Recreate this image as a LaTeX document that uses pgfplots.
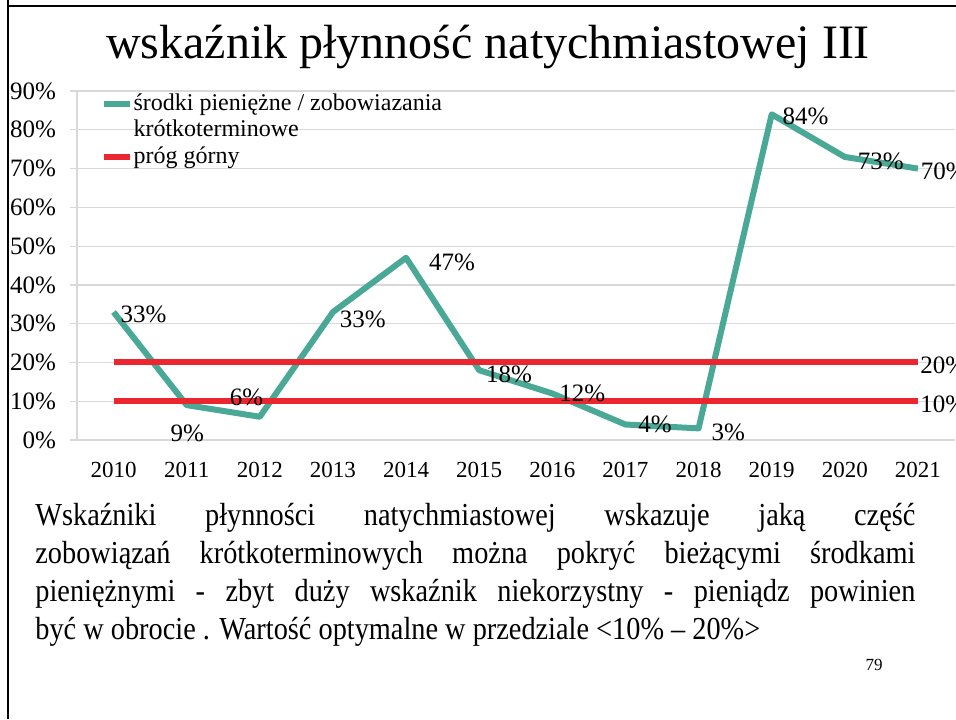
\documentclass[border=0pt]{standalone}
\usepackage{pgfplots}
\pgfplotsset{compat=1.18}
\usepackage{fontspec}
\setmainfont{Liberation Serif}

\definecolor{tealline}{RGB}{74,168,150}
\definecolor{redline}{RGB}{236,38,46}
\definecolor{gridgray}{RGB}{217,217,217}

\begin{document}
\begin{tikzpicture}
% slide frame, 1 px of the scan = 0.5pt
\path[use as bounding box] (0,0) rectangle (478pt,-359.5pt);
\draw[line width=1.1pt] (4pt,0) -- (4pt,-359.5pt);
\draw[line width=1.1pt] (4pt,-3pt) -- (478pt,-3pt);

\node[anchor=base, font=\fontsize{24}{28}\selectfont] at (244pt,-29pt)
  {wskaźnik płynność natychmiastowej III};

\begin{axis}[
    scale only axis,
    width=438.75pt, height=174.5pt,
    at={(38.5pt,-220pt)}, anchor=south west,
    xmin=-0.5, xmax=11.5,
    ymin=0, ymax=90,
    xtick={0,...,11},
    xticklabels={2010,2011,2012,2013,2014,2015,2016,2017,2018,2019,2020,2021},
    minor xtick={0.5,1.5,...,10.5},
    ytick={0,10,...,90},
    yticklabel={\pgfmathprintnumber{\tick}\%},
    /pgf/number format/assume math mode=true,
    ymajorgrids,
    grid style={gridgray, line width=0.6pt},
    axis lines*=left,
    axis line style={gridgray, line width=0.6pt},
    tick align=outside,
    major tick length=3.5pt,
    minor tick length=3.5pt,
    xtick style={draw=none},
    minor x tick style={gridgray, line width=0.6pt},
    ytick style={gridgray, line width=0.6pt},
    xticklabel style={font=\fontsize{11.5}{13}\selectfont, yshift=-4pt},
    yticklabel style={font=\fontsize{12.5}{14}\selectfont, xshift=-3.5pt},
    clip=false,
    legend style={draw=none, fill=none, at={(0.02,1.012)}, anchor=north west,
      font=\fontsize{12}{13}\selectfont, cells={anchor=west},
      row sep=0.3pt,
      nodes={inner xsep=0.5pt, inner ysep=0.5pt, text height=9pt, text depth=3pt}},
    legend image code/.code={\draw[line width=3pt] (0cm,0cm) -- (0.45cm,0cm);},
    nodes near coords={\pgfmathprintnumber{\pgfplotspointmeta}\%},
    every node near coord/.append style={font=\fontsize{12.5}{14}\selectfont,
      text=black, anchor=west, inner sep=2pt},
]

\addplot[tealline, line width=3pt, line join=round,
    coordinate style/.condition={\coordindex==0}{yshift=-1pt},
    coordinate style/.condition={\coordindex==1}{yshift=-14pt, xshift=-11.5pt},
    coordinate style/.condition={\coordindex==2}{xshift=-18.5pt, yshift=9.5pt},
    coordinate style/.condition={\coordindex==3}{yshift=-3.5pt},
    coordinate style/.condition={\coordindex==4}{xshift=8pt, yshift=-2.5pt},
    coordinate style/.condition={\coordindex==5}{yshift=-2pt},
    coordinate style/.condition={\coordindex==7}{xshift=3pt},
    coordinate style/.condition={\coordindex==8}{yshift=-2pt, xshift=3pt},
    coordinate style/.condition={\coordindex==9}{xshift=2pt, yshift=-1pt},
    coordinate style/.condition={\coordindex==10}{xshift=3pt, yshift=-2pt},
    coordinate style/.condition={\coordindex==11}{xshift=-2pt, yshift=-1.5pt},
] coordinates {
    (0,33) (1,9) (2,6) (3,33) (4,47) (5,18)
    (6,12) (7,4) (8,3) (9,84) (10,73) (11,70)
};
\addlegendentry{środki pieniężne / zobowiazania}
\addlegendimage{empty legend}
\addlegendentry{krótkoterminowe}

\addplot[redline, line width=3pt, nodes near coords={}] coordinates {(0,20) (11,20)};
\addlegendentry{próg górny}

\addplot[redline, line width=3pt, nodes near coords={}, forget plot] coordinates {(0,10) (11,10)};

\addplot[draw=none, forget plot,
    every node near coord/.append style={xshift=-1pt, yshift=-1.5pt}]
  coordinates {(11,20) (11,10)};
\end{axis}

\node[anchor=north west, text width=440pt, align=justify, inner sep=0pt,
      font=\fontsize{16}{19}\selectfont\addfontfeatures{FakeStretch=0.885}]
  at (17.5pt,-251.5pt)
  {Wskaźniki płynności natychmiastowej wskazuje jaką część\linebreak
   zobowiązań krótkoterminowych można pokryć bieżącymi środkami\linebreak
   pieniężnymi - zbyt duży wskaźnik niekorzystny - pieniądz powinien\linebreak
   być w obrocie . Wartość optymalne w przedziale <10\% – 20\%>};

\node[font=\fontsize{8.5}{10}\selectfont] at (437pt,-332.5pt) {79};
\end{tikzpicture}
\end{document}
